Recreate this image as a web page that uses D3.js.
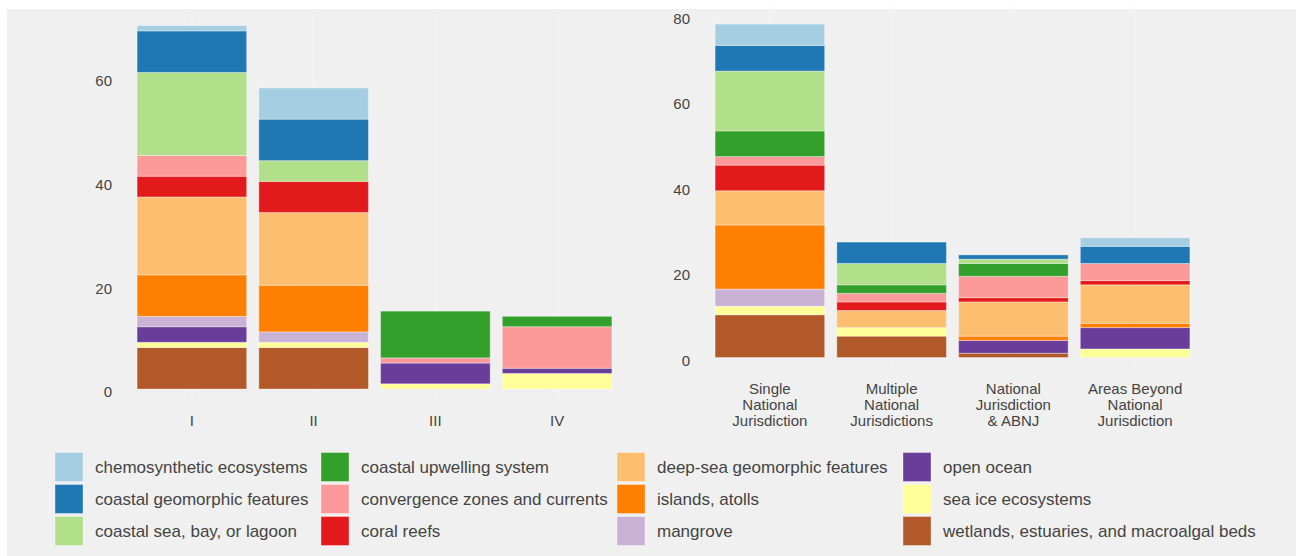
<!DOCTYPE html>
<html>
<head>
<meta charset="utf-8">
<script src="https://cdn.jsdelivr.net/npm/d3@7"></script>
<style>
  html, body { margin: 0; padding: 0; background: #ffffff; }
  svg { display: block; font-family: "Liberation Sans", Arial, sans-serif; }
</style>
</head>
<body>
<svg id="chart" width="1296" height="556"></svg>
<script>
// ---- Data ----
const habitats = [
  "chemosynthetic ecosystems",
  "coastal geomorphic features",
  "coastal sea, bay, or lagoon",
  "coastal upwelling system",
  "convergence zones and currents",
  "coral reefs",
  "deep-sea geomorphic features",
  "islands, atolls",
  "mangrove",
  "open ocean",
  "sea ice ecosystems",
  "wetlands, estuaries, and macroalgal beds"
];
const habitatColors = ["#a6cee3","#1f78b4","#b2df8a","#33a02c","#fb9a99","#e31a1c",
                       "#fdbf6f","#ff7f00","#cab2d6","#6a3d9a","#ffff99","#b15928"];

const leftCategories = ["I", "II", "III", "IV"];
const leftTicks = [0, 20, 40, 60];
// values in habitat order
const groupI   = [1, 8, 16, 0, 4, 4, 15, 8, 2, 3, 1, 8];
const groupII  = [6, 8, 4, 0, 0, 6, 14, 9, 2, 0, 1, 8];
const groupIII = [0, 0, 0, 9, 1, 0, 0, 0, 0, 4, 1, 0];
const groupIV  = [0, 0, 0, 2, 8, 0, 0, 0, 0, 1, 3, 0];

const rightCategories = ["Single\nNational\nJurisdiction", "Multiple\nNational\nJurisdictions",
                         "National\nJurisdiction\n& ABNJ", "Areas Beyond\nNational\nJurisdiction"];
const rightTicks = [0, 20, 40, 60, 80];
const singleNJ   = [5, 6, 14, 6, 2, 6, 8, 15, 4, 0, 2, 10];
const multipleNJ = [0, 5, 5, 2, 2, 2, 4, 0, 0, 0, 2, 5];
const nationalABNJ = [0, 1, 1, 3, 5, 1, 8, 1, 0, 3, 0, 1];
const areasBeyond  = [2, 4, 0, 0, 4, 1, 9, 1, 0, 5, 2, 0];

// ---- Build ----
const svg = d3.select("#chart");
svg.append("rect").attr("x", 7).attr("y", 9).attr("width", 1289).attr("height", 547).attr("fill", "#f0f0f0");

const color = d3.scaleOrdinal().domain(habitats).range(habitatColors);
const stackKeys = habitats.slice().reverse(); // bottom: wetlands

function toRows(cats, groups) {
  return cats.map((c, i) => {
    const row = { cat: c };
    habitats.forEach((h, j) => row[h] = groups[i][j]);
    return row;
  });
}

function drawPanel(opts) {
  const rows = toRows(opts.cats, opts.groups);
  const x = d3.scaleBand().domain(opts.cats).range(opts.xRange).paddingInner(0.1).paddingOuter(0.05);
  const y = d3.scaleLinear().domain(opts.yDomain).range(opts.yRange);
  const g = svg.append("g");

  // faint vertical grid lines
  g.selectAll("line.grid").data(opts.cats).join("line")
    .attr("x1", d => x(d) + x.bandwidth() / 2).attr("x2", d => x(d) + x.bandwidth() / 2)
    .attr("y1", opts.yRange[1] - 10).attr("y2", opts.yRange[0] + 10)
    .attr("stroke", "#f6f6f6").attr("stroke-width", 1);

  const series = d3.stack().keys(stackKeys)(rows);
  g.selectAll("g.series").data(series).join("g")
    .attr("fill", d => color(d.key))
    .selectAll("rect").data(d => d.filter(s => s[1] - s[0] > 0)).join("rect")
      .attr("x", d => x(d.data.cat))
      .attr("width", x.bandwidth())
      .attr("y", d => y(d[1]))
      .attr("height", d => y(d[0]) - y(d[1]))
      .attr("stroke", "rgba(255,255,255,0.35)")
      .attr("stroke-width", 1);

  // y axis
  const ya = svg.append("g").attr("transform", `translate(${opts.yAxisX},0)`)
    .call(d3.axisLeft(y).tickValues(opts.ticks).tickSize(0).tickPadding(6));
  ya.select(".domain").remove();
  ya.selectAll("text").attr("font-size", 15).attr("fill", "#444")
    .attr("font-family", "Liberation Sans, Arial, sans-serif").attr("dy", "0.52em");

  // x labels
  const xl = svg.append("g");
  opts.cats.forEach(c => {
    const lines = c.split("\n");
    const t = xl.append("text")
      .attr("x", x(c) + x.bandwidth() / 2)
      .attr("y", opts.labelY)
      .attr("text-anchor", "middle")
      .attr("font-size", 15).attr("fill", "#444");
    lines.forEach((ln, i) => {
      t.append("tspan").attr("x", x(c) + x.bandwidth() / 2)
        .attr("dy", i === 0 ? 0 : 16).text(ln);
    });
  });
}

drawPanel({
  cats: leftCategories,
  groups: [groupI, groupII, groupIII, groupIV],
  xRange: [131, 618],
  yDomain: [0, 70], yRange: [389, 389 - 70 * 5.19],
  ticks: leftTicks, yAxisX: 118, labelY: 426
});

drawPanel({
  cats: rightCategories,
  groups: [singleNJ, multipleNJ, nationalABNJ, areasBeyond],
  xRange: [709, 1196],
  yDomain: [0, 80], yRange: [357.5, 15.5],
  ticks: rightTicks, yAxisX: 696, labelY: 394
});

// ---- Legend ----
const legendCols = [55, 321, 617, 903];
const legend = svg.append("g");
habitats.forEach((h, i) => {
  const col = Math.floor(i / 3), row = i % 3;
  const lx = legendCols[col], ly = 452.5 + row * 32;
  legend.append("rect").attr("x", lx).attr("y", ly).attr("width", 28).attr("height", 29)
    .attr("fill", color(h)).attr("stroke", "rgba(255,255,255,0.35)");
  legend.append("text").attr("x", lx + 40).attr("y", ly + 20.5)
    .attr("font-size", 17).attr("fill", "#444").text(h);
});
</script>
</body>
</html>
